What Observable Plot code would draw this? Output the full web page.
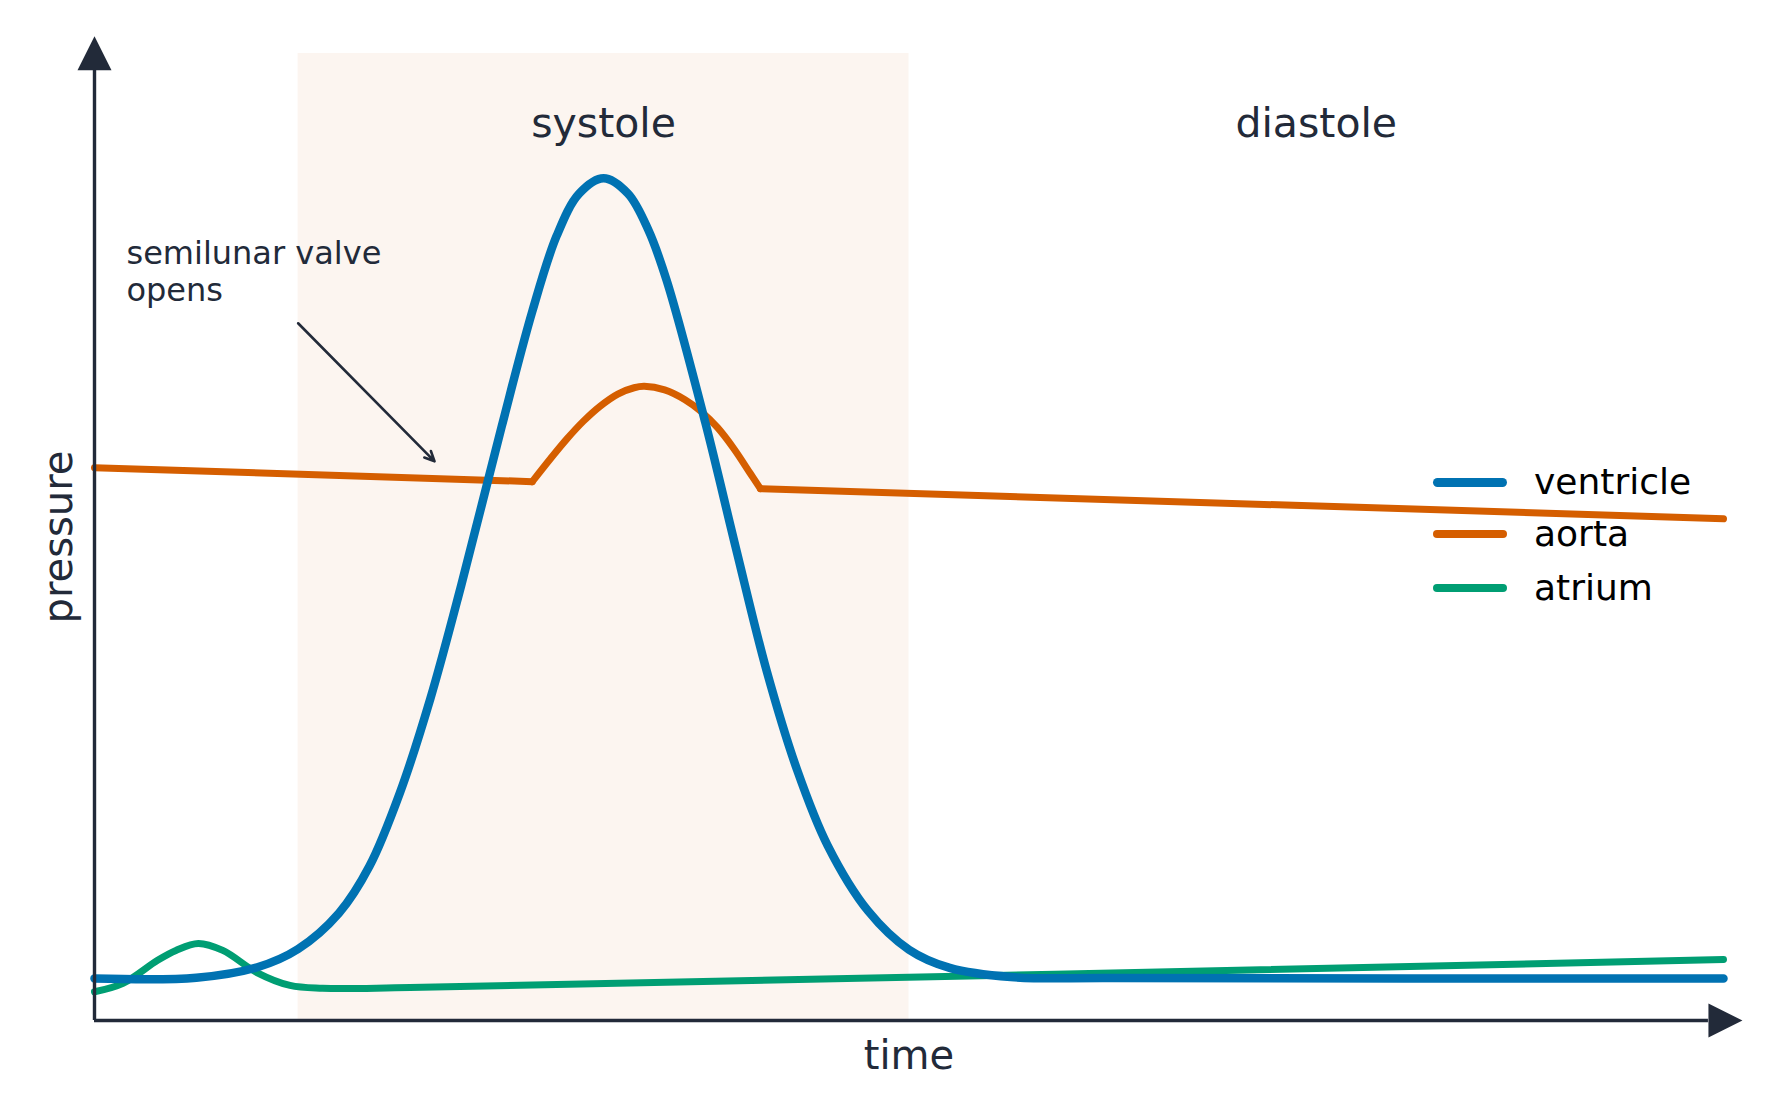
<!DOCTYPE html>
<html>
<head>
<meta charset="utf-8">
<script src="https://cdn.jsdelivr.net/npm/d3@7"></script>
<script src="https://cdn.jsdelivr.net/npm/@observablehq/plot@0.6"></script>
<style>
  html, body { margin: 0; padding: 0; background: #ffffff; }
  #wrap { position: relative; width: 1779px; height: 1116px; font-family: "DejaVu Sans", sans-serif; }
  #wrap svg { position: absolute; left: 0; top: 0; }
  .item { position: absolute; left: 1433px; height: 0; display: flex; align-items: center; white-space: nowrap; }
  .sw { width: 74px; border-radius: 5px; }
  .lab { margin-left: 27px; font-size: 36px; color: #000000; line-height: 1; }
</style>
</head>
<body>
<div id="wrap"></div>
<script>
// ---- data (time in s, pressure in mmHg-like units) ----
const ventricleT = [0, 0.05, 0.08, 0.10, 0.12, 0.135, 0.15, 0.165, 0.18, 0.20, 0.215, 0.227, 0.238, 0.25, 0.262, 0.272, 0.281, 0.30, 0.315, 0.33, 0.345, 0.36, 0.38, 0.40, 0.42, 0.45, 0.50, 0.80];
const ventricleP = [6.0, 6.1, 7.6, 10.2, 15.3, 22.0, 32.5, 46.0, 62.0, 84.8, 101.2, 112.0, 118.0, 120.2, 118.0, 112.8, 105.6, 85.3, 67.4, 50.0, 35.8, 25.0, 15.6, 10.1, 7.5, 6.2, 6.05, 6.0];

const aortaT = [0, 0.215, 0.224, 0.232, 0.24, 0.248, 0.257, 0.265, 0.27, 0.28, 0.29, 0.298, 0.306, 0.314, 0.322, 0.327, 0.8];
const aortaP = [78.9, 76.9, 80.2, 83.0, 85.5, 87.6, 89.4, 90.3, 90.5, 90.0, 88.6, 86.9, 84.6, 81.6, 78.1, 75.9, 71.6];
const aortaValveOpen = 0.215, aortaValveClose = 0.327;

const atriumT = [0, 0.014, 0.031, 0.04, 0.051, 0.063, 0.08, 0.096, 0.112, 0.155, 0.8];
const atriumP = [4.1, 5.3, 8.6, 10.0, 11.0, 10.0, 6.8, 5.0, 4.6, 4.7, 8.7];

const seriesNames = ["ventricle", "aorta", "atrium"];
const seriesColors = ["#0072B2", "#D55E00", "#009E73"];
const seriesWidths = [8.5, 7, 7];

const phaseNames = ["systole", "diastole"];
const phaseStart = [0.1, 0.4];
const phaseEnd = [0.4, 0.8];

const annotationText = "semilunar valve\nopens";
const axisLabels = { x: "time", y: "pressure" };

// domains
const tMax = 0.8, pMax = 138;
const xArrowBase = 0.7926, yArrowBase = 135.6;

// ---- build ----
const toRows = (T, P) => T.map((t, i) => ({ t, p: P[i] }));
const ventricle = toRows(ventricleT, ventricleP);
const aorta = toRows(aortaT, aortaP);
const atrium = toRows(atriumT, atriumP);
const phases = phaseNames.map((name, i) => ({ name, x1: phaseStart[i], x2: phaseEnd[i], mid: (phaseStart[i] + phaseEnd[i]) / 2 }));

const ink = "#222a39";

// custom filled arrowhead symbol (tip up, anchored at base centre)
const arrowHead = {
  draw(context, size) {
    const r = Math.sqrt(size / Math.PI);
    context.moveTo(0, -2 * r);
    context.lineTo(r, 0);
    context.lineTo(-r, 0);
    context.closePath();
  }
};

const aortaLine = (rows, curve) => Plot.line(rows, { x: "t", y: "p", stroke: seriesColors[1], strokeWidth: seriesWidths[1], curve });

const chart = Plot.plot({
  width: 1779,
  height: 1116,
  marginLeft: 94,
  marginRight: 56,
  marginTop: 53,
  marginBottom: 96,
  x: { domain: [0, tMax], axis: null },
  y: { domain: [0, pMax], axis: null },
  style: { fontFamily: "DejaVu Sans, sans-serif", background: "transparent", overflow: "visible" },
  marks: [
    Plot.rect(phases.slice(0, 1), { x1: "x1", x2: "x2", y1: 0, y2: pMax, fill: "#fcf5f0" }),
    Plot.text(phases, { x: "mid", y: 128, text: "name", fontSize: 41, fill: ink }),
    Plot.line(atrium, { x: "t", y: "p", stroke: seriesColors[2], strokeWidth: seriesWidths[2], curve: "catmull-rom" }),
    aortaLine(aorta.filter(d => d.t <= aortaValveOpen), "linear"),
    aortaLine(aorta.filter(d => d.t >= aortaValveOpen && d.t <= aortaValveClose), "catmull-rom"),
    aortaLine(aorta.filter(d => d.t >= aortaValveClose), "linear"),
    Plot.line(ventricle, { x: "t", y: "p", stroke: seriesColors[0], strokeWidth: seriesWidths[0], curve: "catmull-rom" }),
    // annotation
    Plot.text([annotationText], { x: 0.0157, y: 107.0, text: d => d, textAnchor: "start", fontSize: 32, lineHeight: 1.15, fill: ink }),
    Plot.arrow([{ x1: 0.1, y1: 99.5, x2: 0.167, y2: 79.8 }], { x1: "x1", y1: "y1", x2: "x2", y2: "y2", stroke: ink, strokeWidth: 2.6, headLength: 6.3, headAngle: 50 }),
    // axes
    Plot.ruleX([{ x: 0 }], { x: "x", y1: 0, y2: yArrowBase, stroke: ink, strokeWidth: 3.4 }),
    Plot.ruleY([{ y: 0 }], { y: "y", x1: 0, x2: xArrowBase, stroke: ink, strokeWidth: 3.4 }),
    Plot.dot([{ x: 0, y: yArrowBase }], { x: "x", y: "y", symbol: arrowHead, r: 17, fill: ink, stroke: "none" }),
    Plot.dot([{ x: xArrowBase, y: 0 }], { x: "x", y: "y", symbol: arrowHead, r: 17, fill: ink, stroke: "none", rotate: 90 }),
    Plot.text([axisLabels.x], { x: tMax / 2, y: 0, dy: 36, text: d => d, fontSize: 40, fill: ink }),
    Plot.text([axisLabels.y], { x: 0, y: pMax / 2, dx: -35, text: d => d, fontSize: 40, fill: ink, rotate: -90 })
  ]
});

const wrap = document.getElementById("wrap");
wrap.appendChild(chart);

// legend overlay
const legendTops = [482, 534, 588];
seriesNames.forEach((name, i) => {
  const item = document.createElement("div");
  item.className = "item";
  item.style.top = legendTops[i] + "px";
  const sw = document.createElement("div");
  sw.className = "sw";
  sw.style.background = seriesColors[i];
  sw.style.height = (seriesWidths[i] + 0.5) + "px";
  const lab = document.createElement("span");
  lab.className = "lab";
  lab.textContent = name;
  item.appendChild(sw);
  item.appendChild(lab);
  wrap.appendChild(item);
});
</script>
</body>
</html>
